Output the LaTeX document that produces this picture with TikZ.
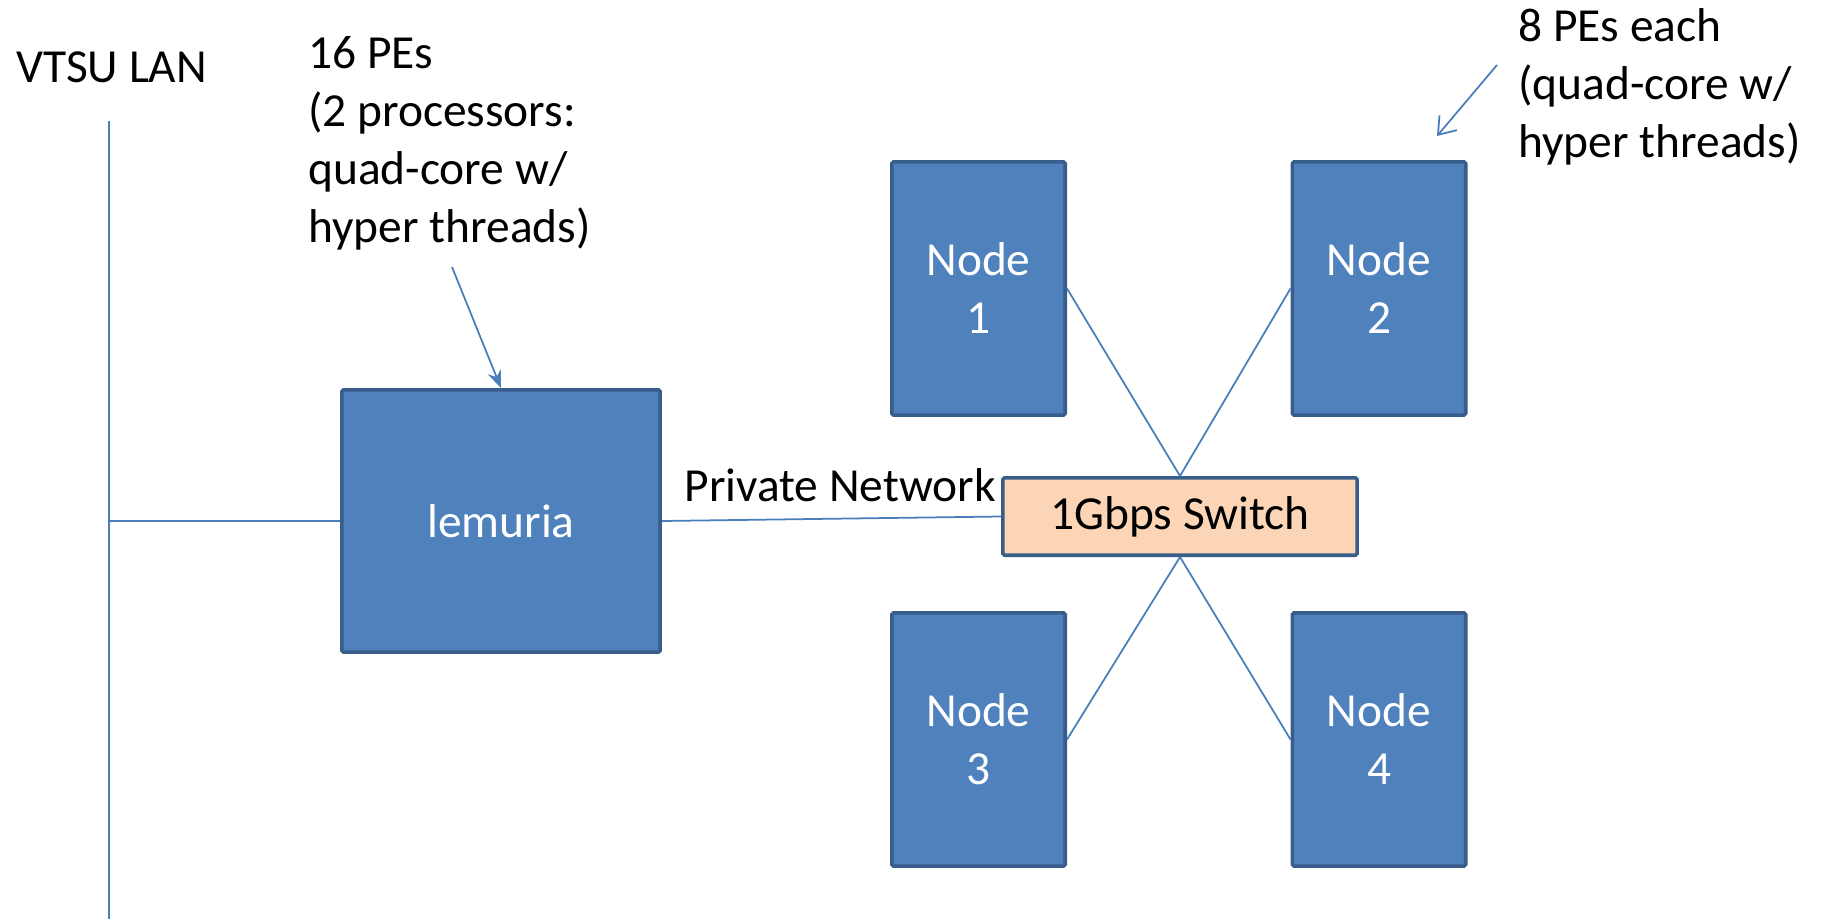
\documentclass[tikz,border=0pt]{standalone}
\usepackage{fontspec}
\setmainfont{Carlito}
\usetikzlibrary{arrows.meta,positioning}
\definecolor{boxblue}{HTML}{4F81BD}
\definecolor{edgeblue}{HTML}{385D8A}
\definecolor{wireblue}{HTML}{4A7EBB}
\definecolor{switchfill}{HTML}{FBD5B5}
\tikzset{
  bigfont/.style={font=\fontsize{27}{33}\selectfont},
  hostbox/.style={bigfont, draw=edgeblue, fill=boxblue, line width=2pt, rounded corners=1pt, text=white, align=center, inner sep=0pt},
  nodebox/.style={hostbox, minimum width=3.47cm, minimum height=5.07cm},
  switchbox/.style={hostbox, fill=switchfill, text=black, minimum width=7.09cm, minimum height=1.55cm},
  note/.style={bigfont, align=left, inner sep=0pt},
  wire/.style={draw=wireblue, line width=1pt}
}
\begin{document}
\begin{tikzpicture}[x=0.02cm,y=-0.02cm]
  \useasboundingbox (0,0) rectangle (1821,919); % picture frame
  \node[bigfont,anchor=west,inner sep=0pt] (lanlabel) at (16,67) {VTSU LAN}; % LAN label
  \coordinate (lantop) at (109,121); % top of LAN bus
  \coordinate (lanbot) at (109,919); % bottom of LAN bus
  \draw[wire] (lantop) -- (lanbot); % LAN bus
  \node[hostbox,minimum width=6.37cm,minimum height=5.25cm] (lemuria) at (501,521) {lemuria}; % head node
  \node[switchbox] (switch) at (1180,516.5) {1Gbps Switch}; % switch
  \node[nodebox] (n1) at (978.5,288.5) {Node\\1}; % compute node 1
  \node[nodebox] (n2) at (1379,288.5) {Node\\2}; % compute node 2
  \node[nodebox] (n3) at (978.5,739.5) {Node\\3}; % compute node 3
  \node[nodebox] (n4) at (1379,739.5) {Node\\4}; % compute node 4
  \draw[wire] (lemuria.west) -- (lemuria.west -| lantop); % LAN wiring
  \draw[wire] (lemuria.east) -- (switch.west); % private wiring
  \draw[wire] (switch.north) -- (n1.east); % wiring
  \draw[wire] (switch.north) -- (n2.west); % wiring
  \draw[wire] (switch.south) -- (n3.east); % wiring
  \draw[wire] (switch.south) -- (n4.west); % wiring
  \node[bigfont,anchor=east,inner sep=0pt] (privlabel) at (996,485) {Private Network}; % private network label
  \node[note,anchor=west] (headnote) at (308,143) {16 PEs\\(2 processors:\\quad-core w/\\hyper threads)}; % head node note
  \node[note,anchor=west] (nodenote) at (1518,87) {8 PEs each\\(quad-core w/\\hyper threads)}; % compute node note
  \coordinate (headtail) at (452,267); % arrow start
  \draw[wire,-{Stealth[length=10pt,width=8pt]}] (headtail) -- (lemuria.north); % head node arrow
  \coordinate (nodetail) at (1497,65); % arrow start
  \coordinate (nodetip) at (1437,136); % arrow end
  \draw[wire,-{Straight Barb[length=9pt,width=13pt]}] (nodetail) -- (nodetip); % compute node arrow
\end{tikzpicture}
\end{document}
